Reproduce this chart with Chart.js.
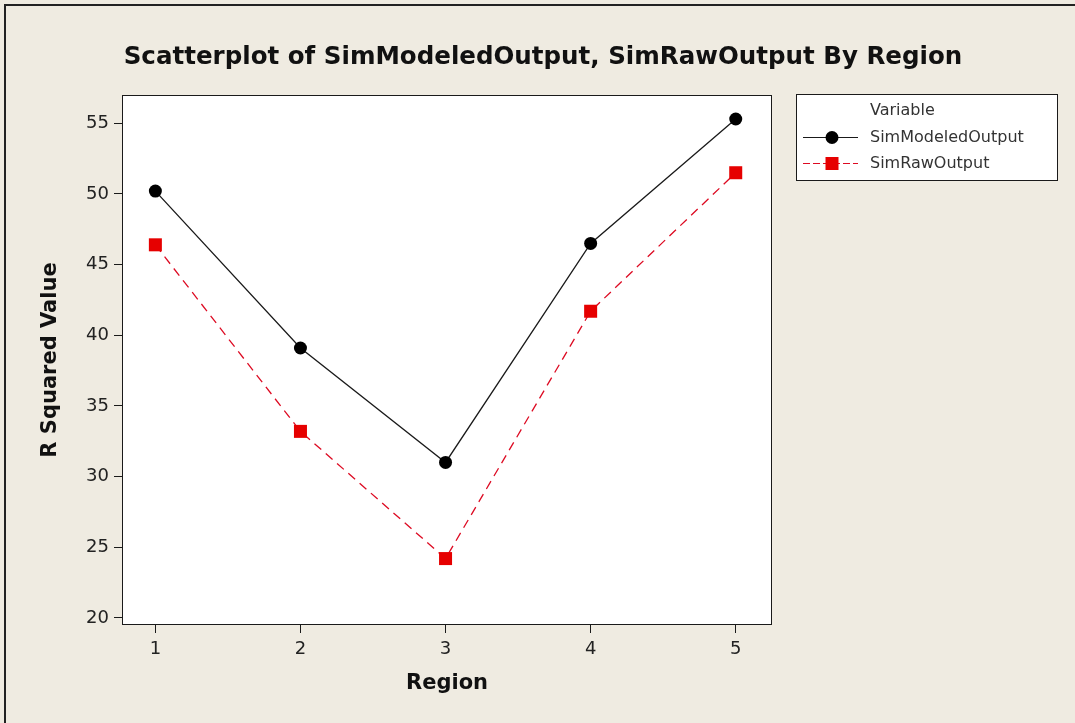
<!DOCTYPE html>
<html><head><meta charset="utf-8">
<script src="https://cdn.jsdelivr.net/npm/chart.js@4"></script>
<style>html,body{margin:0;padding:0;background:#EFEBE1;}canvas{display:block}</style>
</head><body>
<canvas id="c" width="1075" height="723"></canvas>
<script>
const chartTitle = 'Scatterplot of SimModeledOutput, SimRawOutput By Region';
const xAxisTitle = 'Region';
const yAxisTitle = 'R Squared Value';
const legendTitle = 'Variable';
const seriesNames = ['SimModeledOutput', 'SimRawOutput'];
const regions = [1, 2, 3, 4, 5];
const simModeledOutput = [50.2, 39.1, 31.0, 46.5, 55.3];
const simRawOutput = [46.4, 33.2, 24.2, 41.7, 51.5];
const xTicks = [1, 2, 3, 4, 5];
const yTicks = [20, 25, 30, 35, 40, 45, 50, 55];

const BG = '#EFEBE1';
const INK = '#1a1a1a';
const RED = '#E60000';
const RED_LINE = '#DD0A22';
const seriesLineColors = [INK, RED_LINE];

function drawMarker(ctx, style, x, y, color) {
  ctx.save();
  ctx.fillStyle = color;
  ctx.beginPath();
  if (style === 'circle') {
    ctx.arc(x, y, 6.5, 0, Math.PI * 2);
  } else {
    ctx.rect(x - 6.5, y - 6.5, 13, 13);
  }
  ctx.fill();
  ctx.restore();
}

const framePlugin = {
  id: 'framePlugin',
  beforeDraw(chart) {
    const {ctx, chartArea: a, width, height} = chart;
    ctx.save();
    ctx.fillStyle = BG;
    ctx.fillRect(0, 0, width, height);
    ctx.strokeStyle = '#222';
    ctx.lineWidth = 2;
    ctx.beginPath();
    ctx.moveTo(5, height);
    ctx.lineTo(5, 5);
    ctx.lineTo(width, 5);
    ctx.stroke();
    ctx.fillStyle = '#fff';
    ctx.fillRect(a.left, a.top, a.right - a.left, a.bottom - a.top);
    ctx.restore();
  },
  afterDraw(chart) {
    const {ctx, chartArea: a} = chart;
    ctx.save();
    // plot border
    ctx.strokeStyle = INK;
    ctx.lineWidth = 1;
    ctx.strokeRect(Math.round(a.left) + 0.5, Math.round(a.top) + 0.5,
      Math.round(a.right - a.left) - 1, Math.round(a.bottom - a.top) - 1);
    // title
    ctx.fillStyle = '#111';
    ctx.textAlign = 'center';
    ctx.textBaseline = 'middle';
    ctx.font = 'bold 22px "DejaVu Sans"';
    const w = ctx.measureText(chartTitle).width;
    const fs = 22 * 839 / w;
    ctx.font = 'bold ' + fs.toFixed(2) + 'px "DejaVu Sans"';
    ctx.fillText(chartTitle, 543, 58);
    // legend
    const lx = 796, ly = 94, lw = 261, lh = 86;
    ctx.fillStyle = '#fff';
    ctx.fillRect(lx, ly, lw, lh);
    ctx.strokeStyle = INK;
    ctx.lineWidth = 1;
    ctx.strokeRect(lx + 0.5, ly + 0.5, lw, lh);
    ctx.font = '16px "DejaVu Sans"';
    ctx.textAlign = 'left';
    ctx.fillStyle = '#333';
    ctx.fillText(legendTitle, 870, 111);
    const ds = chart.data.datasets;
    const rows = [137, 163];
    ds.forEach((d, i) => {
      const y = rows[i] + 0.5;
      ctx.save();
      ctx.strokeStyle = seriesLineColors[i];
      ctx.lineWidth = 1;
      ctx.setLineDash(i === 1 ? [7, 3] : []);
      ctx.beginPath();
      ctx.moveTo(803, y);
      ctx.lineTo(858, y);
      ctx.stroke();
      ctx.restore();
      drawMarker(ctx, d.pointStyle, 832, y, d.pointBackgroundColor);
      ctx.fillStyle = '#333';
      ctx.fillText(d.label, 870, rows[i] + 1);
    });
    ctx.restore();
  }
};

const chart = new Chart(document.getElementById('c'), {
  type: 'scatter',
  data: {
    datasets: [
      {
        label: seriesNames[0],
        data: regions.map((x, i) => ({x: x, y: simModeledOutput[i]})),
        showLine: true,
        borderColor: seriesLineColors[0],
        borderWidth: 1.3,
        pointStyle: 'circle',
        pointRadius: 6.5,
        pointBackgroundColor: '#000',
        pointBorderWidth: 0,
        pointBorderColor: '#000'
      },
      {
        label: seriesNames[1],
        data: regions.map((x, i) => ({x: x, y: simRawOutput[i]})),
        showLine: true,
        borderColor: seriesLineColors[1],
        borderWidth: 1.3,
        borderDash: [9, 6],
        pointStyle: 'rect',
        pointRadius: 9.2,
        pointBackgroundColor: RED,
        pointBorderWidth: 0,
        pointBorderColor: RED
      }
    ]
  },
  options: {
    responsive: false,
    animation: false,
    events: [],
    layout: {padding: {left: 0, top: 95, right: 303, bottom: 0}},
    plugins: {legend: {display: false}, title: {display: false}, tooltip: {enabled: false}},
    scales: {
      x: {
        type: 'linear',
        min: 0.77,
        max: 5.25,
        afterBuildTicks: s => { s.ticks = xTicks.map(v => ({value: v})); },
        afterFit: s => { s.height = 98; },
        grid: {drawOnChartArea: false, drawTicks: true, tickLength: 8, color: INK, lineWidth: 1},
        border: {display: false},
        ticks: {color: '#222', font: {family: 'DejaVu Sans', size: 18}, padding: 6, callback: v => String(v), maxRotation: 0},
        title: {display: true, text: xAxisTitle, color: '#111', font: {family: 'DejaVu Sans', size: 21, weight: 'bold'}, padding: {top: 0, bottom: 27}}
      },
      y: {
        type: 'linear',
        min: 19.5,
        max: 57,
        afterBuildTicks: s => { s.ticks = yTicks.map(v => ({value: v})); },
        afterFit: s => { s.width = 122; },
        grid: {drawOnChartArea: false, drawTicks: true, tickLength: 8, color: INK, lineWidth: 1},
        border: {display: false},
        ticks: {color: '#222', font: {family: 'DejaVu Sans', size: 18}, padding: 5, callback: v => String(v)},
        title: {display: true, text: yAxisTitle, color: '#111', font: {family: 'DejaVu Sans', size: 21, weight: 'bold'}, padding: {top: 38, bottom: 0}}
      }
    }
  },
  plugins: [framePlugin]
});
</script>
</body></html>
